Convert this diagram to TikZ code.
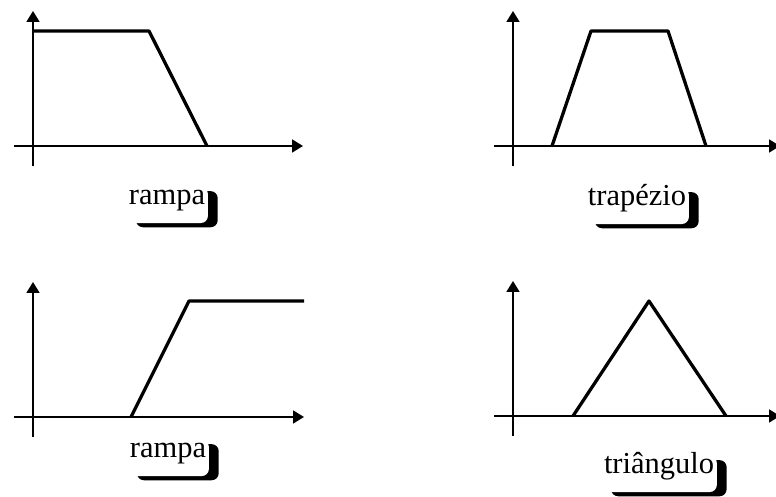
\documentclass[tikz,border=0pt]{standalone}
\usepackage{fontspec}
\setmainfont{Liberation Serif}
\usetikzlibrary{arrows.meta, shadows}

\begin{document}
\begin{tikzpicture}[x=0.015cm, y=-0.015cm,
    eixo/.style={line width=0.9pt, -{Triangle[length=4.6pt, width=5.4pt]}},
    curva/.style={line width=1.4pt, line join=round},
    rotulo/.style={font=\fontsize{13}{15}\selectfont, fill=white, inner xsep=1.2pt, inner ysep=1.2pt,
      text height=6.5pt, text depth=6.5pt, rounded corners=3pt,
      drop shadow={shadow xshift=4.2pt, shadow yshift=-1.8pt, fill=black, opacity=1}}]
    \useasboundingbox (0,0) rectangle (776,497);
    % eixos dos quatro graficos
    \foreach \ox/\oy/\len in {0/0/303, 480/0/300, 0/271/304, 480/270/300} {
      \draw[eixo] (\ox+33, \oy+166) -- (\ox+33, \oy+11);
      \draw[eixo] (\ox+14, \oy+146) -- (\ox+\len, \oy+146);
    }
    % funcoes de pertinencia
    \draw[curva] (33,31) -- (149,31) -- (207,146);
    \draw[curva] (552,146) -- (591,31) -- (668,31) -- (706,146);
    \draw[curva] (131,417) -- (189,301) -- (304,301);
    \draw[curva] (573,416) -- (649,301) -- (726,416);
    % rotulos
    \node[rotulo] (rampaA) at (167,205) {rampa};
    \node[rotulo] (trapezio) at (637,206) {trapézio};
    \node[rotulo] (rampaB) at (168,458) {rampa};
    \node[rotulo] (triangulo) at (659,474) {triângulo};
  \end{tikzpicture}
\end{document}
